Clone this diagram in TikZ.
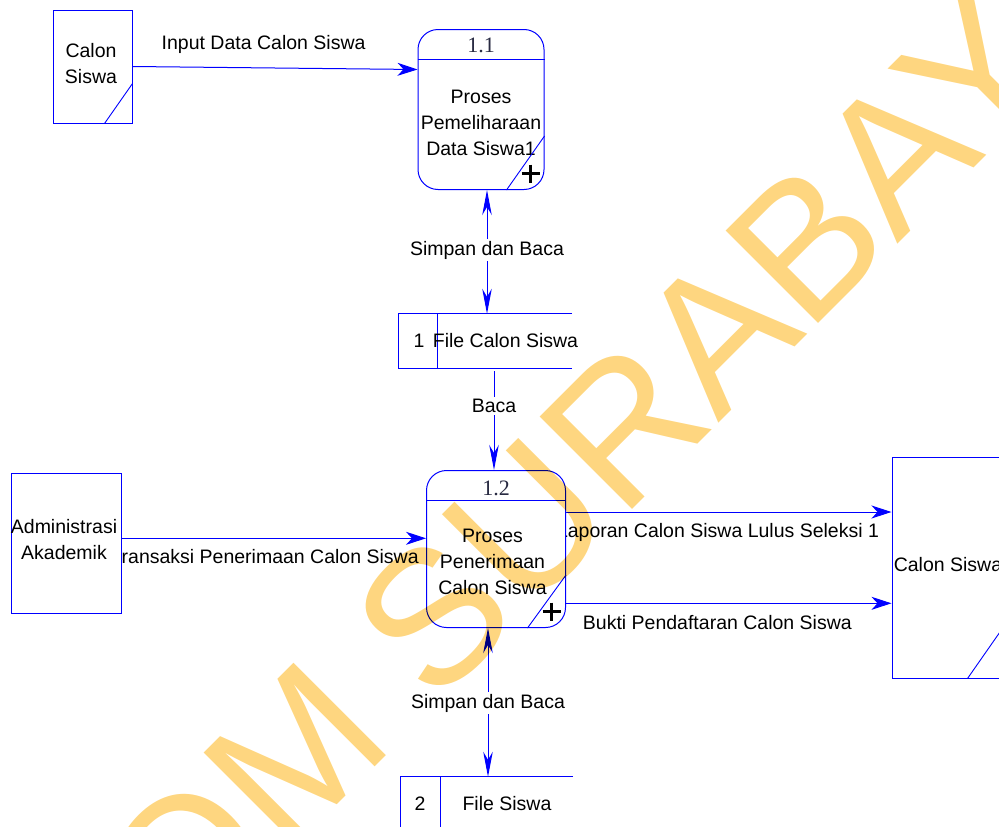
\documentclass[tikz,border=0pt]{standalone}
\usepackage{fontspec}
\setmainfont{Liberation Sans}
\newfontfamily\serifnum{Liberation Serif}
\usetikzlibrary{arrows.meta,calc}
\pgfdeclarelayer{bg}
\pgfdeclarelayer{fg}
\pgfsetlayers{bg,main,fg}
\definecolor{dfd}{RGB}{0,0,255}
\definecolor{wmk}{RGB}{254,214,128}
\definecolor{numc}{RGB}{40,42,66}
\begin{document}
\begin{tikzpicture}[x=1pt,y=-1pt,
  lw/.style={line width=1pt},
  txt/.style={font=\fontsize{19.5}{26}\selectfont, align=center, text=black, inner sep=0pt},
  box/.style={draw=dfd, line width=1pt, fill=white, inner sep=0pt, txt},
  proc/.style={box, rounded corners=20pt},
  flowh/.style={draw=dfd, line width=1pt, -{Stealth[length=20pt,width=13pt,inset=6pt]}},
  flowv/.style={draw=dfd, line width=1pt, -{Stealth[length=25pt,width=9.5pt,inset=8pt]}},
  flowvv/.style={draw=dfd, line width=1pt, {Stealth[length=25pt,width=9.5pt,inset=8pt]}-{Stealth[length=25pt,width=9.5pt,inset=8pt]}},
  lbl/.style={txt, inner sep=1pt},
  lblw/.style={txt, fill=white, inner sep=2pt},
  slash/.style={draw=dfd, line width=0.9pt},
  plus/.style={draw=black, line width=2.2pt},
  num/.style={font=\serifnum\fontsize{22}{22}\selectfont, text=numc, inner sep=0pt},
]
\useasboundingbox (0,0) rectangle (999,827);

% ---------- nodes ----------
% external entity: Calon Siswa (top-left)
\node[box, minimum width=79pt, minimum height=113pt] (ent1) at (92.5,66.5) {};
\node[txt] (ent1t) at (91,64) {Calon\\Siswa};
\draw[slash] ($(ent1.south east)+(-28,0)$) -- ($(ent1.south east)+(0,-40)$);

% process 1.1
\node[proc, minimum width=126pt, minimum height=160pt] (p11) at (481,109.5) {};
\draw[dfd, lw] ($(p11.north west)+(0,30)$) -- ($(p11.north east)+(0,30)$);
\node[num] (n11) at ($(p11.north)+(0,16.5)$) {1.1};
\node[txt] (t11) at (481,123) {Proses\\Pemeliharaan\\Data Siswa1};
\draw[slash] ($(p11.south east)+(-38,0)$) -- ($(p11.south east)+(0,-54)$);
\draw[plus] ($(p11.south east)+(-23,-16.5)$) -- ++(18,0);
\draw[plus] ($(p11.south east)+(-14,-25.5)$) -- ++(0,18);

% data store 1
\node[minimum width=173pt, minimum height=54pt, inner sep=0pt] (st1) at (485.5,341) {};
\draw[dfd, lw] (st1.north east) -- (st1.north west) -- (st1.south west) -- (st1.south east);
\draw[dfd, lw] ($(st1.north west)+(38.5,0)$) -- ($(st1.south west)+(38.5,0)$);
\node[txt] (st1n) at (419,341) {1};
\node[txt] (st1t) at (505.5,341) {File Calon Siswa};

% process 1.2
\node[proc, minimum width=139pt, minimum height=157pt] (p12) at (496,549) {};
\draw[dfd, lw] ($(p12.north west)+(0,30)$) -- ($(p12.north east)+(0,30)$);
\node[num] (n12) at ($(p12.north)+(0,18.5)$) {1.2};
\node[txt] (t12) at (492.5,561.7) {Proses\\Penerimaan\\Calon Siswa};
\draw[slash] ($(p12.south east)+(-38.5,0)$) -- ($(p12.south east)+(0,-53)$);
\draw[plus] ($(p12.south east)+(-23.5,-16.5)$) -- ++(18,0);
\draw[plus] ($(p12.south east)+(-14.5,-25.5)$) -- ++(0,18);

% external entity: Administrasi Akademik
\node[box, minimum width=110pt, minimum height=140pt] (adm) at (66.5,543.5) {};
\node[txt] (admt) at (64,540) {Administrasi\\Akademik};

% external entity: Calon Siswa (right)
\node[box, minimum width=112pt, minimum height=221pt] (cs2) at (948,567.5) {};
\node[txt] (cs2t) at (948,565) {Calon Siswa};
\draw[slash] ($(cs2.south east)+(-37,0)$) -- ($(cs2.south east)+(0,-53)$);

% data store 2
\node[minimum width=172pt, minimum height=54pt, inner sep=0pt] (st2) at (487,804) {};
\draw[dfd, lw] (st2.north east) -- (st2.north west) -- (st2.south west) -- (st2.south east);
\draw[dfd, lw] ($(st2.north west)+(39.5,0)$) -- ($(st2.south west)+(39.5,0)$);
\node[txt] (st2n) at (420,804) {2};
\node[txt] (st2t) at (507,804) {File Siswa};

% ---------- connectors ----------
\begin{pgfonlayer}{bg}
\coordinate (c11) at (487,0);
\coordinate (c12) at (494,0);
\coordinate (c13) at (488,0);
\coordinate (r2) at (0,538.3);
\coordinate (r3) at (0,512);
\coordinate (r4) at (0,603.3);

\draw[flowh] (ent1.east) -- ($(p11.north west)+(0,40.5)$)
  node[lbl, pos=0.46, yshift=23pt] (l1) {Input Data Calon Siswa};

\draw[flowvv] (p11.south -| c11) -- (st1.north -| c11)
  node[lblw, pos=0.485] (l2) {Simpan dan Baca};

\draw[flowv] ($(st1.south -| c12)+(0,3)$) -- (p12.north -| c12)
  node[lblw, pos=0.35] (l3) {Baca};

\draw[flowh] (adm.east |- r2) -- (p12.west |- r2)
  node[lbl, pos=0.469, yshift=-18.5pt] (l4) {Transaksi Penerimaan Calon Siswa};

\draw[flowh] (p12.east |- r3) -- (cs2.west |- r3)
  node[lbl, pos=0.467, yshift=-20.7pt] (l5) {Laporan Calon Siswa Lulus Seleksi 1};

\draw[flowh] (p12.east |- r4) -- (cs2.west |- r4)
  node[lbl, pos=0.465, yshift=-19.4pt] (l6) {Bukti Pendaftaran Calon Siswa};

\draw[flowvv] (p12.south -| c13) -- (st2.north -| c13)
  node[lblw, pos=0.505] (l7) {Simpan dan Baca};
\end{pgfonlayer}

% ---------- watermark ----------
\begin{pgfonlayer}{fg}
\begin{scope}[blend mode=multiply]
\node[rotate=45, anchor=base west, inner sep=0pt, text=wmk,
  font=\fontsize{190}{190}\selectfont] (wm) at (-118,1260) {STIKOM SURABAYA};
\end{scope}
\end{pgfonlayer}
\end{tikzpicture}
\end{document}
